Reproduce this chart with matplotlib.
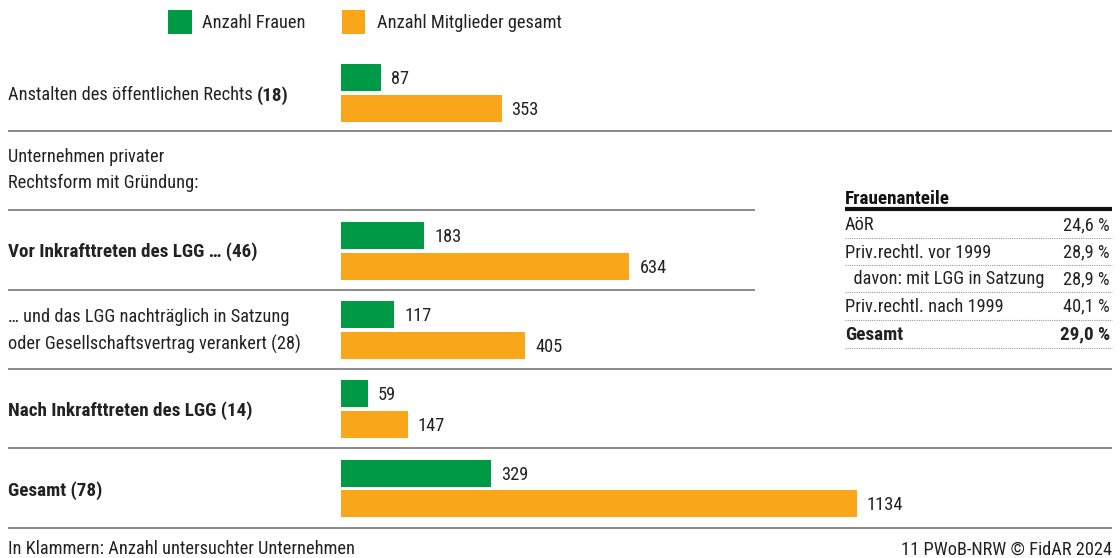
import matplotlib
matplotlib.use("Agg")
import matplotlib.pyplot as plt
from matplotlib import font_manager as fm

# ---- data ----
categories = ["Anstalten des öffentlichen Rechts", "Vor Inkrafttreten des LGG … (46)",
              "… und das LGG nachträglich in Satzung\noder Gesellschaftsvertrag verankert (28)",
              "Nach Inkrafttreten des LGG (14)", "Gesamt (78)"]
frauen = [87, 183, 117, 59, 329]
gesamt = [353, 634, 405, 147, 1134]
legend_labels = ["Anzahl Frauen", "Anzahl Mitglieder gesamt"]
table_title = "Frauenanteile"
table_rows = ["AöR", "Priv.rechtl. vor 1999", "  davon: mit LGG in Satzung", "Priv.rechtl. nach 1999", "Gesamt"]
table_vals = ["24,6 %", "28,9 %", "28,9 %", "40,1 %", "29,0 %"]
footer_left = "In Klammern: Anzahl untersuchter Unternehmen"
footer_right = "11 PWoB-NRW © FidAR 2024"

# ---- font choice: prefer a condensed face ----
def find_fonts():
    cands = []
    for f in fm.fontManager.ttflist:
        nm = f.name
        path = f.fname.lower()
        cond = ('narrow' in nm.lower() or 'condensed' in nm.lower() or 'condensed' in path
                or str(f.stretch) in ('condensed', 'semi-condensed', '400', '500')
                or 'narrow' in path)
        if cond and 'italic' not in path and 'oblique' not in path and 'mono' not in path:
            cands.append(f)
    def w(f):
        try:
            return int(f.weight)
        except Exception:
            return {'normal': 400, 'regular': 400, 'book': 400, 'bold': 700, 'light': 300}.get(str(f.weight).lower(), 400)
    pref = ['Liberation Sans Narrow', 'Roboto Condensed', 'Open Sans Condensed', 'DejaVu Sans', 'Noto Sans']
    for p in pref:
        fam = [f for f in cands if f.name == p]
        if fam:
            r = [f for f in fam if w(f) == 400]
            b = [f for f in fam if w(f) >= 600]
            if r:
                return r[0].fname, (b[0].fname if b else r[0].fname)
    return None, None

reg_path, bold_path = find_fonts()
if reg_path:
    FP = fm.FontProperties(fname=reg_path)
    FPB = fm.FontProperties(fname=bold_path)
    FS, FSB = 13.2, 13.8
else:
    FP = fm.FontProperties(family='Roboto')
    FPB = fm.FontProperties(family='Roboto', weight='bold')
    FS, FSB = 11.5, 11.5

GREEN = "#009a46"
ORANGE = "#f9a61b"
TXT = "#222222"
LINE = "#8a8a8a"
DY = 1.5  # small vertical text nudge (pixels)

W, H = 1120, 558
fig = plt.figure(figsize=(W/100, H/100), dpi=100)
ax = fig.add_axes([0, 0, 1, 1])
X0 = 341.0
S = (857 - 341) / 1134.0
ax.set_xlim(-X0 / S, (W - X0) / S)
ax.set_ylim(H, 0)
ax.axis('off')

def px(x):
    return (x - X0) / S

def txt(x, y, s, bold=False, ha='left', color=TXT):
    fp = (FPB if bold else FP).copy()
    fp.set_size(FSB if bold else FS)
    return ax.text(px(x), y + DY, s, va='center', ha=ha, fontproperties=fp, color=color)

# bars
g_centers = [77.5, 235.5, 314.5, 393.5, 473.5]
o_centers = [108.5, 266.5, 345.5, 424.5, 503.5]
bh = 27
ax.barh(g_centers, frauen, height=bh, color=GREEN, left=0)
ax.barh(o_centers, gesamt, height=bh, color=ORANGE, left=0)
fpv = FP.copy(); fpv.set_size(FS)
for yc, v in zip(g_centers, frauen):
    ax.text(v + 10 / S, yc + DY, str(v), va='center', ha='left', fontproperties=fpv, color=TXT)
for yc, v in zip(o_centers, gesamt):
    ax.text(v + 10 / S, yc + DY, str(v), va='center', ha='left', fontproperties=fpv, color=TXT)

# separators
for y, x1 in [(131, 1112), (210, 755), (290, 755), (369, 1112), (448, 1112), (528, 1112)]:
    ax.plot([px(8), px(x1)], [y, y], color=LINE, lw=1.4, solid_capstyle='butt')

# legend
ax.barh([22], [24 / S], left=px(168), height=24, color=GREEN)
txt(202, 21.5, legend_labels[0])
ax.barh([22], [23 / S], left=px(342), height=24, color=ORANGE)
txt(377, 21.5, legend_labels[1])

# left labels
fig.canvas.draw()
r = fig.canvas.get_renderer()
t = txt(8, 94, categories[0] + " ")
bb = t.get_window_extent(renderer=r)
txt(bb.x1, 94, "(18)", bold=True)

txt(8, 155, "Unternehmen privater")
txt(8, 181, "Rechtsform mit Gründung:")
txt(8, 250, categories[1], bold=True)
l1, l2 = categories[2].split("\n")
txt(8, 316, l1)
txt(8, 343, l2)
txt(8, 409, categories[3], bold=True)
txt(8, 489, categories[4], bold=True)

# footer
txt(8, 548, footer_left)
txt(1112, 548, footer_right, ha='right')

# table
txt(845, 197, table_title, bold=True, color='#111111')
ax.plot([px(845), px(1112)], [209, 209], color='#111111', lw=3, solid_capstyle='butt')
row_y = [224, 251, 278, 305, 333]
dot_y = [238, 265, 292, 320, 348]
for i, (lab, val, y, dy) in enumerate(zip(table_rows, table_vals, row_y, dot_y)):
    b = (i == len(table_rows) - 1)
    txt(845, y, lab, bold=b)
    txt(1110, y, val, bold=b, ha='right')
    ax.plot([px(845), px(1112)], [dy, dy], color='#999999', lw=0.8, ls=(0, (1, 1)))

fig.savefig("out.png", dpi=100)
